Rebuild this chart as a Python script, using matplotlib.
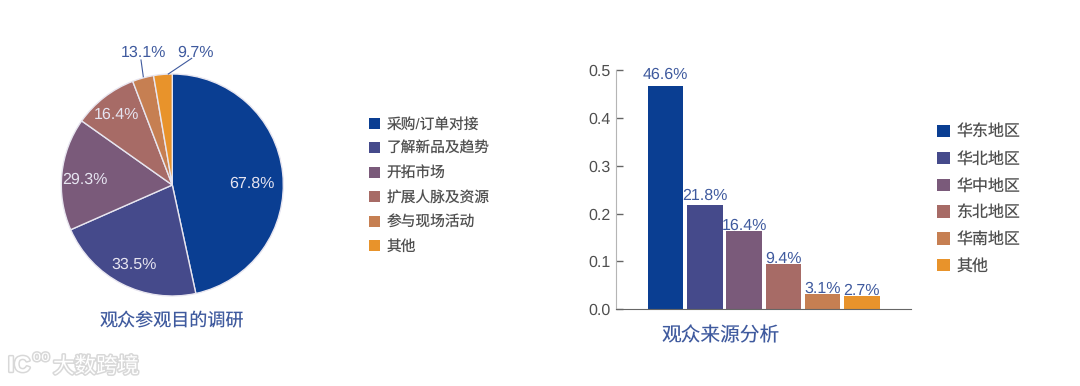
import matplotlib
matplotlib.use('Agg')
import matplotlib.pyplot as plt
import matplotlib.patheffects as pe
from matplotlib.patches import Patch

plt.rcParams['font.family'] = ['Liberation Sans', 'Noto Sans CJK SC', 'DejaVu Sans']
plt.rcParams['text.hinting'] = 'no_hinting'
plt.rcParams['text.hinting_factor'] = 1

# donnees
colors = ['#0A3E92', '#454A8B', '#7A5A7A', '#A76B66', '#C67F52', '#E8932B']
purpose_cats = ['采购/订单对接', '了解新品及趋势', '开拓市场', '扩展人脉及资源', '参与现场活动', '其他']
purpose_labels = ['67.8%', '33.5%', '29.3%', '16.4%', '13.1%', '9.7%']
purpose_sizes = [46.6, 21.8, 16.4, 9.4, 3.1, 2.7]
region_cats = ['华东地区', '华北地区', '华中地区', '东北地区', '华南地区', '其他']
region_vals = [0.466, 0.218, 0.164, 0.094, 0.031, 0.027]
region_labels = ['46.6%', '21.8%', '16.4%', '9.4%', '3.1%', '2.7%']
yticks = [0.0, 0.1, 0.2, 0.3, 0.4, 0.5]

W, H = 1080, 386
blue_txt = '#3F5A9E'
grey_txt = '#4F4F4F'


def box(left, top, right, bottom):
    return [left / W, 1 - bottom / H, (right - left) / W, (bottom - top) / H]


def fx(x, y):
    return x / W, 1 - y / H


fig = plt.figure(figsize=(W / 100, H / 100), dpi=100)

# camembert
ax1 = fig.add_axes(box(61.3, 74, 283.3, 296))
wedges, _ = ax1.pie(purpose_sizes, colors=colors, startangle=90, counterclock=False, radius=1,
                    wedgeprops={'edgecolor': '#E8E6F0', 'linewidth': 1})
ax1.set_xlim(-1, 1)
ax1.set_ylim(-1, 1)

inner_pos = [(252, 184), (134.3, 265), (85, 180), (116, 115)]
for lab, (x, y) in zip(purpose_labels[:4], inner_pos):
    fig.text(*fx(x, y), lab, color='#E6E4F0', fontsize=11.2, ha='center', va='center')

fig.text(*fx(143.3, 52.7), purpose_labels[4], color=blue_txt, fontsize=11.2, ha='center', va='center')
fig.text(*fx(196, 52.7), purpose_labels[5], color=blue_txt, fontsize=11.2, ha='center', va='center')
fig.add_artist(plt.Line2D([141 / W, 143.3 / W], [1 - 60 / H, 1 - 76.7 / H], color=blue_txt, lw=0.8))
fig.add_artist(plt.Line2D([191.7 / W, 168.3 / W], [1 - 58.3 / H, 1 - 74 / H], color=blue_txt, lw=0.8))

fig.text(*fx(172, 322), '观众参观目的调研', color=blue_txt, fontsize=13, ha='center', va='center')

h1 = [Patch(facecolor=c, label=l) for c, l in zip(colors, purpose_cats)]
fig.legend(handles=h1, loc='upper left', bbox_to_anchor=fx(369, 117.5), frameon=False, borderpad=0,
           borderaxespad=0, fontsize=10.6, labelcolor=grey_txt, handlelength=0.76, handleheight=0.76,
           handletextpad=0.42, labelspacing=0.71)

# barres
ax2 = fig.add_axes(box(616, 70, 911, 309.3))
x = list(range(len(region_vals)))
bars = ax2.bar(x, region_vals, width=0.905, color=colors)
ax2.set_xlim(-1.26, 6.25)
ax2.set_ylim(0, 0.5)
ax2.set_yticks(yticks)
ax2.set_yticklabels([f'{t:.1f}' for t in yticks], fontsize=11.2, color=grey_txt)
ax2.set_xticks([])
ax2.tick_params(axis='y', direction='in', length=5, width=1, color='#666666', pad=4)
ax2.spines['top'].set_visible(False)
ax2.spines['right'].set_visible(False)
ax2.spines['left'].set_color('#B5B5B5')
ax2.spines['bottom'].set_color('#666666')
# decalage des etiquettes, different selon la barre
offsets = [3, 1, -1.5, -1, -1, -1]
for i, lab in enumerate(region_labels):
    ax2.annotate(lab, (x[i], region_vals[i]), xytext=(0, offsets[i]), textcoords='offset points',
                 ha='center', va='bottom', color=blue_txt, fontsize=11.2, annotation_clip=False)

fig.text(*fx(720.5, 335.7), '观众来源分析', color=blue_txt, fontsize=14.2, ha='center', va='center')

h2 = [Patch(facecolor=c, label=l) for c, l in zip(colors, region_cats)]
fig.legend(handles=h2, loc='upper left', bbox_to_anchor=fx(937, 125), frameon=False, borderpad=0,
           borderaxespad=0, fontsize=11.5, labelcolor=grey_txt, handlelength=0.8, handleheight=0.8,
           handletextpad=0.4, labelspacing=0.74)

# filigrane
glow = [pe.withStroke(linewidth=2.2, foreground='#C8C8C8', alpha=0.7)]
fig.text(*fx(19, 366), 'IC', color='white', fontsize=16, fontweight='bold', ha='center', va='center', path_effects=glow)
fig.text(*fx(41, 357), 'oo', color='white', fontsize=11, ha='center', va='center', path_effects=glow)
fig.text(*fx(96, 367), '大数跨境', color='white', fontsize=15.5, ha='center', va='center', path_effects=glow)

fig.savefig('out.png', dpi=100)
